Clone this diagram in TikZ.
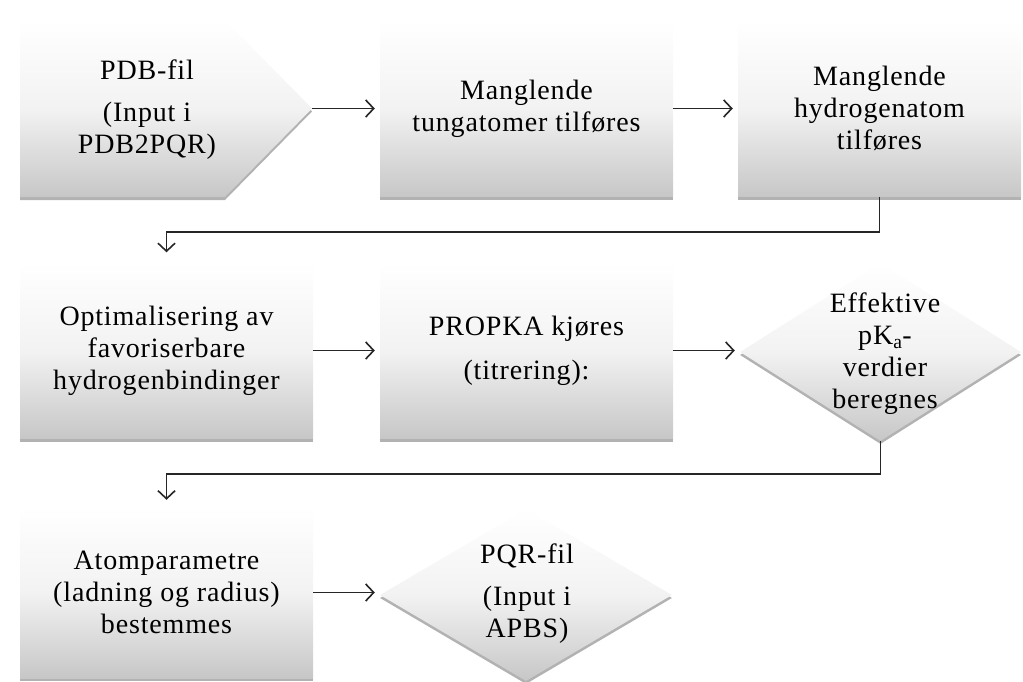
\documentclass[tikz,border=0pt]{standalone}
\usepackage{fontspec}
\setmainfont{Liberation Serif}[LetterSpace=3]
\usetikzlibrary{shapes.geometric,shadows,arrows.meta,calc}
\begin{document}
\begin{tikzpicture}[x=1pt,y=1pt,
  shade/.style={draw=none, top color=white, bottom color=black!22, middle color=black!5,
    drop shadow={shadow xshift=0pt,shadow yshift=-3pt,fill=black!60,opacity=0.5}},
  txt/.style={font=\fontsize{28}{32}\selectfont, align=center, inner sep=0pt},
  stepbox/.style={shade, txt, rectangle, minimum width=293pt, minimum height=176pt},
  decision/.style={shade, diamond, inner sep=0pt},
  conn/.style={draw=black!85, line width=1.8pt, -{Straight Barb[length=8pt,width=17pt,line width=1.6pt]}, shorten >=5pt}
]
\useasboundingbox (0,-681) rectangle (1023,0);
\clip (0,-681) rectangle (1023,0);

% row 1
\path[shade] (20,-20) -- (225,-20) -- (312,-108.5) -- (225,-197) -- (20,-197) -- cycle;
\coordinate (p1) at (312,-108.5);
\node[txt] (t1) at (147,-110) {PDB-fil\\[10pt](Input i\\PDB2PQR)};
\node[stepbox] (b2) at (526.5,-108.5) {Manglende\\tungatomer tilføres};
\node[stepbox, minimum width=283pt] (b3) at (879.5,-108.5) {Manglende\\hydrogenatom\\tilføres};

% row 2
\node[stepbox] (b4) at (166.5,-350.5) {Optimalisering av\\favoriserbare\\hydrogenbindinger};
\node[stepbox] (b5) at (526.5,-350.5) {PROPKA kjøres\\[12pt](titrering):};
\node[decision, minimum width=281pt, minimum height=178pt] (d6) at (880.5,-352) {};
\node[txt] (t6) at (885,-354) {Effektive\\pK\textsubscript{a}-\\verdier\\beregnes};

% row 3
\node[stepbox, minimum height=171pt] (b7) at (166.5,-592.5) {Atomparametre\\(ladning og radius)\\bestemmes};
\node[decision, minimum width=292pt, minimum height=172pt] (d8) at (526,-595) {};
\node[txt] (t8) at (527,-594) {PQR-fil\\[10pt](Input i\\APBS)};

% connectors
\draw[conn] (p1) -- (b2.west);
\draw[conn] (b2.east) -- (b3.west);
\draw[conn, shorten >=10pt] (b3.south) -- ++(0,-35) -| (b4.north);
\draw[conn] (b4.east) -- (b5.west);
\draw[conn] (b5.east) -- (b5.east -| d6.west);
\draw[conn, shorten >=7pt] (d6.south) -- ++(0,-33) -| (b7.north);
\draw[conn] (b7.east) -- (b7.east -| d8.west);
\end{tikzpicture}
\end{document}
